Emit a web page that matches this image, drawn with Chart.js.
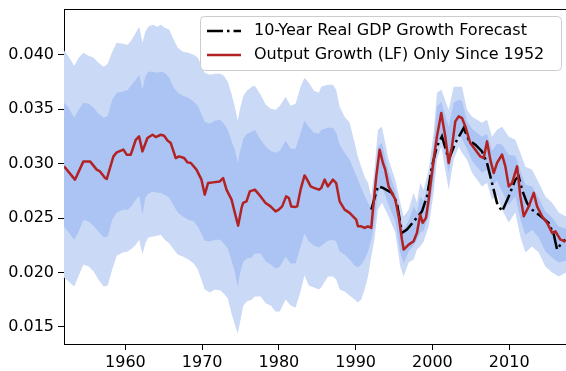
<!DOCTYPE html>
<html>
<head>
<meta charset="utf-8">
<script src="https://cdn.jsdelivr.net/npm/chart.js@4.4.1/dist/chart.umd.min.js"></script>
<style>
  html, body { margin: 0; padding: 0; background: #fff; overflow: hidden; }
</style>
</head>
<body>
<canvas id="chart" width="566" height="371"></canvas>
<script>
// uncertainty bands around trend output growth
const bandYears = [
  1952.00, 1952.61, 1953.33, 1953.92, 1954.53, 1955.22, 1955.87, 1956.48, 1957.18, 1957.70,
  1958.28, 1958.87, 1959.65, 1960.31, 1960.83, 1961.35, 1961.80, 1962.22, 1962.59, 1962.98,
  1963.56, 1964.15, 1964.61, 1965.13, 1965.72, 1966.30, 1966.82, 1967.48, 1968.19, 1968.91,
  1969.43, 1970.34, 1971.00, 1971.65, 1972.36, 1972.82, 1973.34, 1973.86, 1974.25, 1974.64,
  1974.90, 1975.36, 1975.82, 1976.47, 1976.86, 1977.61, 1978.30, 1978.95, 1979.56, 1980.12,
  1980.87, 1981.52, 1982.17, 1982.82, 1983.32, 1983.90, 1984.56, 1985.21, 1985.51, 1986.38,
  1987.03, 1987.46, 1987.91, 1988.56, 1989.21, 1989.86, 1990.29, 1990.72, 1991.17, 1991.60,
  1992.03, 1992.44, 1992.90, 1993.42, 1994.29, 1995.16, 1995.81, 1996.25, 1996.90, 1997.55,
  1997.98, 1998.41, 1998.86, 1999.51, 2000.16, 2000.59, 2001.15, 2002.12, 2002.77, 2003.42,
  2003.85, 2004.50, 2005.16, 2005.81, 2006.46, 2007.11, 2007.76, 2008.41, 2009.07, 2009.94,
  2010.80, 2011.45, 2012.11, 2012.98, 2013.85, 2014.71, 2015.59, 2016.46, 2017.40
];
const outerHigh = [
  0.04041, 0.03983, 0.03900, 0.03974, 0.04020, 0.03992, 0.03974, 0.03928, 0.03891, 0.03919,
  0.04029, 0.04112, 0.04103, 0.04093, 0.04139, 0.04204, 0.04259, 0.04112, 0.04213, 0.04259,
  0.04277, 0.04259, 0.04277, 0.04250, 0.04231, 0.04139, 0.04066, 0.04029, 0.04020, 0.04002,
  0.03974, 0.03836, 0.03818, 0.03827, 0.03827, 0.03809, 0.03753, 0.03634, 0.03524, 0.03395,
  0.03496, 0.03625, 0.03671, 0.03707, 0.03717, 0.03634, 0.03542, 0.03505, 0.03496, 0.03533,
  0.03616, 0.03533, 0.03551, 0.03707, 0.03790, 0.03744, 0.03671, 0.03652, 0.03707, 0.03726,
  0.03726, 0.03680, 0.03524, 0.03432, 0.03377, 0.03193, 0.03064, 0.02972, 0.02880, 0.02825,
  0.02697, 0.02945, 0.03312, 0.03340, 0.03037, 0.02853, 0.02641, 0.02513, 0.02577, 0.02733,
  0.02641, 0.02825, 0.02761, 0.02945, 0.03285, 0.03652, 0.03680, 0.03496, 0.03707, 0.03707,
  0.03707, 0.03496, 0.03432, 0.03404, 0.03377, 0.03404, 0.03248, 0.03312, 0.03340, 0.03248,
  0.03220, 0.03101, 0.02972, 0.02945, 0.02825, 0.02697, 0.02641, 0.02550, 0.02513
];
const innerHigh = [
  0.03560, 0.03515, 0.03423, 0.03496, 0.03560, 0.03551, 0.03515, 0.03459, 0.03423, 0.03441,
  0.03588, 0.03652, 0.03662, 0.03680, 0.03726, 0.03772, 0.03818, 0.03680, 0.03799, 0.03845,
  0.03845, 0.03836, 0.03845, 0.03836, 0.03790, 0.03698, 0.03652, 0.03625, 0.03606, 0.03570,
  0.03533, 0.03386, 0.03367, 0.03395, 0.03404, 0.03367, 0.03312, 0.03202, 0.03129, 0.03009,
  0.03101, 0.03230, 0.03276, 0.03294, 0.03312, 0.03220, 0.03156, 0.03119, 0.03101, 0.03119,
  0.03211, 0.03138, 0.03138, 0.03285, 0.03395, 0.03340, 0.03285, 0.03276, 0.03312, 0.03331,
  0.03331, 0.03285, 0.03174, 0.03101, 0.03037, 0.02926, 0.02853, 0.02779, 0.02706, 0.02641,
  0.02577, 0.02807, 0.03156, 0.03193, 0.02926, 0.02752, 0.02513, 0.02393, 0.02476, 0.02605,
  0.02550, 0.02697, 0.02660, 0.02834, 0.03165, 0.03524, 0.03570, 0.03340, 0.03560, 0.03588,
  0.03579, 0.03395, 0.03322, 0.03285, 0.03248, 0.03276, 0.03119, 0.03184, 0.03174, 0.03083,
  0.03073, 0.02936, 0.02807, 0.02789, 0.02687, 0.02559, 0.02504, 0.02421, 0.02402
];
const innerLow = [
  0.02421, 0.02366, 0.02301, 0.02375, 0.02485, 0.02467, 0.02430, 0.02375, 0.02320, 0.02329,
  0.02485, 0.02550, 0.02577, 0.02577, 0.02614, 0.02669, 0.02706, 0.02531, 0.02687, 0.02724,
  0.02743, 0.02733, 0.02733, 0.02715, 0.02687, 0.02614, 0.02550, 0.02513, 0.02485, 0.02467,
  0.02421, 0.02292, 0.02283, 0.02301, 0.02301, 0.02265, 0.02219, 0.02099, 0.02007, 0.01870,
  0.01980, 0.02099, 0.02127, 0.02136, 0.02173, 0.02173, 0.02099, 0.02072, 0.02035, 0.02053,
  0.02145, 0.02081, 0.02081, 0.02237, 0.02357, 0.02283, 0.02246, 0.02228, 0.02246, 0.02292,
  0.02301, 0.02283, 0.02191, 0.02164, 0.02118, 0.02063, 0.02044, 0.02072, 0.02118, 0.02191,
  0.02301, 0.02439, 0.02733, 0.02789, 0.02623, 0.02467, 0.02182, 0.02081, 0.02191, 0.02246,
  0.02301, 0.02366, 0.02384, 0.02531, 0.02853, 0.03165, 0.03266, 0.02917, 0.03184, 0.03276,
  0.03230, 0.03138, 0.03027, 0.02972, 0.02917, 0.02945, 0.02798, 0.02844, 0.02743, 0.02623,
  0.02697, 0.02494, 0.02347, 0.02393, 0.02320, 0.02191, 0.02136, 0.02090, 0.02108
];
const outerLow = [
  0.01952, 0.01915, 0.01870, 0.01971, 0.02072, 0.02053, 0.02007, 0.01934, 0.01870, 0.01879,
  0.02026, 0.02154, 0.02182, 0.02191, 0.02219, 0.02255, 0.02301, 0.02164, 0.02265, 0.02320,
  0.02329, 0.02338, 0.02347, 0.02301, 0.02265, 0.02210, 0.02164, 0.02145, 0.02118, 0.02081,
  0.02026, 0.01842, 0.01814, 0.01842, 0.01833, 0.01805, 0.01759, 0.01612, 0.01520, 0.01438,
  0.01529, 0.01695, 0.01732, 0.01750, 0.01778, 0.01778, 0.01713, 0.01695, 0.01640, 0.01640,
  0.01750, 0.01695, 0.01677, 0.01824, 0.01971, 0.01879, 0.01860, 0.01842, 0.01860, 0.01961,
  0.01961, 0.01934, 0.01842, 0.01824, 0.01787, 0.01750, 0.01722, 0.01750, 0.01842, 0.01961,
  0.02145, 0.02301, 0.02577, 0.02641, 0.02513, 0.02366, 0.02053, 0.01961, 0.02090, 0.02118,
  0.02210, 0.02237, 0.02283, 0.02421, 0.02733, 0.03037, 0.03156, 0.02761, 0.03037, 0.03156,
  0.03101, 0.03037, 0.02917, 0.02853, 0.02789, 0.02825, 0.02669, 0.02715, 0.02577, 0.02458,
  0.02550, 0.02329, 0.02182, 0.02237, 0.02182, 0.02053, 0.01998, 0.01961, 0.01998
];

// output growth estimated from labor force data only
const outputYears = [
  1952.00, 1953.43, 1954.53, 1955.39, 1956.26, 1956.69, 1957.35, 1957.57, 1958.44, 1958.87,
  1959.74, 1960.17, 1960.70, 1961.35, 1961.78, 1962.22, 1962.87, 1963.53, 1963.96, 1964.61,
  1965.04, 1965.48, 1965.91, 1966.56, 1966.99, 1967.65, 1968.09, 1968.52, 1969.26, 1969.91,
  1970.34, 1970.77, 1971.43, 1972.30, 1972.73, 1973.17, 1973.83, 1974.26, 1974.69, 1975.13,
  1975.34, 1975.78, 1976.21, 1976.86, 1977.61, 1978.26, 1978.91, 1979.56, 1979.99, 1980.42,
  1980.94, 1981.30, 1981.60, 1982.17, 1982.38, 1982.82, 1983.34, 1983.68, 1984.13, 1984.56,
  1985.21, 1985.51, 1985.95, 1986.38, 1987.03, 1987.46, 1987.91, 1988.56, 1989.21, 1989.64,
  1990.07, 1990.29, 1990.72, 1991.17, 1991.60, 1992.03, 1992.25, 1992.68, 1993.12, 1993.55,
  1993.85, 1994.29, 1995.16, 1995.60, 1996.03, 1996.25, 1996.90, 1997.55, 1997.98, 1998.41,
  1998.73, 1999.16, 1999.51, 2000.16, 2000.59, 2001.15, 2001.67, 2002.12, 2002.55, 2002.98,
  2003.42, 2003.85, 2004.28, 2004.93, 2005.59, 2006.24, 2006.68, 2007.11, 2007.54, 2007.98,
  2008.41, 2009.07, 2009.50, 2009.94, 2010.37, 2011.03, 2011.45, 2011.90, 2012.55, 2013.20,
  2013.63, 2014.28, 2014.94, 2015.59, 2016.02, 2016.67, 2017.34
];
const outputGrowth = [
  0.02975, 0.02853, 0.03021, 0.03021, 0.02945, 0.02929, 0.02868, 0.02859, 0.03067, 0.03104,
  0.03129, 0.03083, 0.03083, 0.03220, 0.03251, 0.03113, 0.03236, 0.03266, 0.03245, 0.03266,
  0.03257, 0.03214, 0.03190, 0.03052, 0.03067, 0.03052, 0.03012, 0.03006, 0.02945, 0.02853,
  0.02715, 0.02822, 0.02828, 0.02837, 0.02868, 0.02761, 0.02669, 0.02547, 0.02430, 0.02593,
  0.02639, 0.02653, 0.02745, 0.02761, 0.02699, 0.02639, 0.02607, 0.02561, 0.02577, 0.02607,
  0.02699, 0.02684, 0.02607, 0.02602, 0.02607, 0.02761, 0.02892, 0.02853, 0.02791, 0.02777,
  0.02761, 0.02777, 0.02853, 0.02791, 0.02853, 0.02822, 0.02653, 0.02577, 0.02547, 0.02516,
  0.02485, 0.02424, 0.02424, 0.02409, 0.02424, 0.02409, 0.02577, 0.02883, 0.03129, 0.03006,
  0.02945, 0.02791, 0.02669, 0.02516, 0.02301, 0.02210, 0.02255, 0.02286, 0.02363, 0.02531,
  0.02455, 0.02501, 0.02669, 0.03037, 0.03251, 0.03466, 0.03251, 0.03006, 0.03159, 0.03389,
  0.03435, 0.03420, 0.03343, 0.03190, 0.03129, 0.03067, 0.03052, 0.03205, 0.03037, 0.02914,
  0.03006, 0.03083, 0.02975, 0.02791, 0.02822, 0.02975, 0.02699, 0.02516, 0.02607, 0.02731,
  0.02607, 0.02516, 0.02455, 0.02363, 0.02378, 0.02301, 0.02286
];

// 10-year real GDP growth forecast
const forecastYears = [
  1992.03, 1992.90, 1993.55, 1994.72, 1995.37, 1996.03, 1996.68, 1997.76, 1998.64, 1999.29,
  1999.94, 2000.59, 2001.24, 2002.12, 2002.98, 2004.07, 2004.72, 2005.59, 2006.46, 2007.11,
  2007.76, 2008.41, 2009.07, 2009.94, 2010.80, 2011.24, 2011.67, 2012.32, 2012.98, 2013.85,
  2015.15, 2015.81, 2016.24, 2016.67, 2017.32
];
const forecastGrowth = [
  0.02577, 0.02791, 0.02777, 0.02731, 0.02639, 0.02363, 0.02393, 0.02485, 0.02561, 0.02699,
  0.02975, 0.03159, 0.03251, 0.03037, 0.03190, 0.03328, 0.03220, 0.03175, 0.03113, 0.03006,
  0.02822, 0.02639, 0.02561, 0.02699, 0.02853, 0.02883, 0.02761, 0.02639, 0.02577, 0.02531,
  0.02455, 0.02348, 0.02210, 0.02255, 0.02301
];

const xTicks = [1960, 1970, 1980, 1990, 2000, 2010];
const yTicks = [0.015, 0.020, 0.025, 0.030, 0.035, 0.040];

const legendItems = [
  { label: '10-Year Real GDP Growth Forecast', color: '#000000', dash: [16, 4, 2.5, 4] },
  { label: 'Output Growth (LF) Only Since 1952', color: '#b22222', dash: [] }
];

const FONT = 'DejaVu Sans';
const pts = (xs, ys) => xs.map((x, i) => ({ x: x, y: ys[i] }));

function bandSet(values, fillTo, color, order) {
  return {
    data: pts(bandYears, values),
    borderColor: 'rgba(0,0,0,0)',
    borderWidth: 0,
    backgroundColor: color,
    fill: fillTo === null ? false : fillTo,
    pointRadius: 0,
    tension: 0,
    order: order
  };
}

// top spine and matplotlib-style legend box
const frame = {
  id: 'frame',
  afterDatasetsDraw(chart) {
    const { ctx, chartArea } = chart;
    ctx.save();
    ctx.strokeStyle = '#000';
    ctx.lineWidth = 1;
    ctx.beginPath();
    ctx.moveTo(chartArea.left, chartArea.top + 0.5);
    ctx.lineTo(chartArea.right, chartArea.top + 0.5);
    ctx.stroke();
    ctx.restore();
  },
  afterDraw(chart) {
    const ctx = chart.ctx;
    const box = { x: 200.5, y: 16.5, w: 361, h: 54, r: 4 };
    ctx.save();
    ctx.beginPath();
    ctx.roundRect(box.x, box.y, box.w, box.h, box.r);
    ctx.fillStyle = 'rgba(255,255,255,0.8)';
    ctx.fill();
    ctx.strokeStyle = '#cccccc';
    ctx.lineWidth = 1;
    ctx.stroke();

    ctx.font = '16px "' + FONT + '"';
    ctx.textBaseline = 'middle';
    legendItems.forEach((item, i) => {
      const y = 31 + i * 24;
      ctx.beginPath();
      ctx.setLineDash(item.dash);
      ctx.lineWidth = 2.5;
      ctx.strokeStyle = item.color;
      ctx.moveTo(207, y);
      ctx.lineTo(241, y);
      ctx.stroke();
      ctx.setLineDash([]);
      ctx.fillStyle = '#000';
      ctx.fillText(item.label, 254, y);
    });
    ctx.restore();
  }
};

const axisCommon = {
  grid: { drawOnChartArea: false, drawTicks: true, tickLength: 6, tickColor: '#000', tickWidth: 1 },
  border: { display: true, color: '#000', width: 1 }
};

new Chart(document.getElementById('chart'), {
  type: 'line',
  data: {
    datasets: [
      bandSet(outerHigh, 3, '#cad9f6', 5),
      bandSet(innerHigh, 2, '#abc4f3', 4),
      bandSet(innerLow, null, '#abc4f3', 3),
      bandSet(outerLow, null, '#cad9f6', 3),
      {
        data: pts(forecastYears, forecastGrowth),
        borderColor: '#000000',
        borderWidth: 2.5,
        borderDash: [16, 4, 2.5, 4],
        fill: false,
        pointRadius: 0,
        tension: 0,
        order: 1
      },
      {
        data: pts(outputYears, outputGrowth),
        borderColor: '#b22222',
        borderWidth: 2.5,
        borderJoinStyle: 'round',
        fill: false,
        pointRadius: 0,
        tension: 0,
        order: 0
      }
    ]
  },
  options: {
    responsive: false,
    animation: false,
    devicePixelRatio: 1,
    layout: { padding: 0 },
    plugins: {
      legend: { display: false },
      tooltip: { enabled: false },
      filler: { propagate: false }
    },
    scales: {
      x: Object.assign({}, axisCommon, {
        type: 'linear',
        min: 1952,
        max: 2017.4,
        afterBuildTicks: s => { s.ticks = xTicks.map(v => ({ value: v })); },
        afterFit: s => { s.height = 27; s.paddingLeft = 0; s.paddingRight = 0; },
        ticks: {
          color: '#000',
          font: { family: FONT, size: 16 },
          padding: 3,
          maxRotation: 0,
          autoSkip: false,
          callback: v => String(v)
        }
      }),
      y: Object.assign({}, axisCommon, {
        type: 'linear',
        min: 0.01341,
        max: 0.04423,
        afterBuildTicks: s => { s.ticks = yTicks.map(v => ({ value: v })); },
        afterFit: s => { s.width = 64; s.paddingTop = 9; s.paddingBottom = 0; },
        ticks: {
          color: '#000',
          font: { family: FONT, size: 16 },
          padding: 4,
          autoSkip: false,
          callback: v => v.toFixed(3)
        }
      })
    }
  },
  plugins: [frame]
});
</script>
</body>
</html>
